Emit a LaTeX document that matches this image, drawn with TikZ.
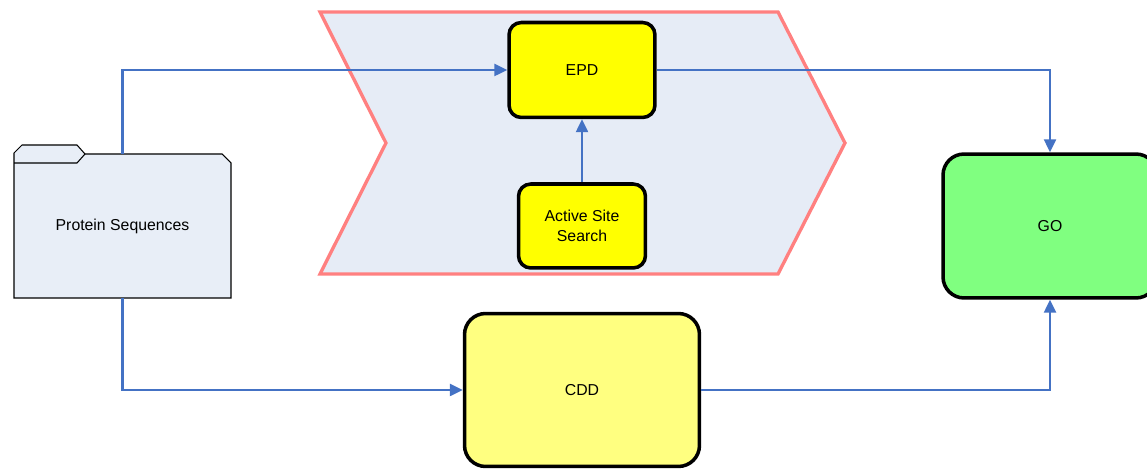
\documentclass[tikz,border=0pt]{standalone}
\usepackage{fontspec}
\setmainfont{Liberation Sans}
\usepackage{xcolor}
\usetikzlibrary{arrows.meta, positioning}

\begin{document}
\begin{tikzpicture}[x=0.02cm, y=-0.02cm,
            % Process boxes
            proc/.style={draw, rounded corners=7pt, line width=2pt,
                    align=center, font=\fontsize{9}{11}\selectfont, inner sep=2pt},
            % Flow arrow
            arr/.style={-{Triangle[length=0.26cm, width=0.24cm]}, line width=1.4pt,
                    color={rgb,255:red,68;green,114;blue,196}}
        ]

        \useasboundingbox (0,0) rectangle (1147,469);

        % Chevron band
        \draw[line width=1.9pt, draw={rgb,255:red,255;green,128;blue,128},
              fill={rgb,255:red,230;green,236;blue,246}]
            (320,12) -- (778,12) -- (845,143) -- (778,274) -- (320,274) -- (386,143) -- cycle;

        % Folder
        \draw[line width=0.6pt, fill={rgb,255:red,232;green,238;blue,247}]
            (14,298) -- (14,153) -- (22,145) -- (77,145) -- (85,154) -- (222,154)
            -- (231,163) -- (231,298) -- cycle;
        \draw[line width=0.6pt] (14,163) -- (77,163) -- (85,154);
        \node[minimum width=4.34cm, minimum height=2.88cm, inner sep=0pt,
              font=\fontsize{9}{11}\selectfont] (seqs) at (122.5,226) {Protein Sequences};

        % EPD
        \node[proc, fill={rgb,255:red,255;green,255;blue,0},
              minimum width=2.92cm, minimum height=1.9cm] (epd) at (582,70) {EPD};

        % Active Site Search
        \node[proc, fill={rgb,255:red,255;green,255;blue,0},
              minimum width=2.54cm, minimum height=1.68cm] (site) at (582,226) {Active Site\\Search};

        % CDD
        \node[proc, rounded corners=12pt, fill={rgb,255:red,255;green,255;blue,128},
              minimum width=4.7cm, minimum height=3.06cm] (cdd) at (582,390) {CDD};

        % GO
        \node[proc, rounded corners=12pt, fill={rgb,255:red,128;green,255;blue,128},
              minimum width=4.28cm, minimum height=2.88cm] (go) at (1050,226) {GO};

        % Arrows
        \draw[arr] (seqs.north) |- (epd.west);
        \draw[arr] (site.north) -- (epd.south);
        \draw[arr] (epd.east) -| (go.north);
        \draw[arr] (seqs.south) |- (cdd.west);
        \draw[arr] (cdd.east) -| (go.south);

    \end{tikzpicture}
\end{document}
